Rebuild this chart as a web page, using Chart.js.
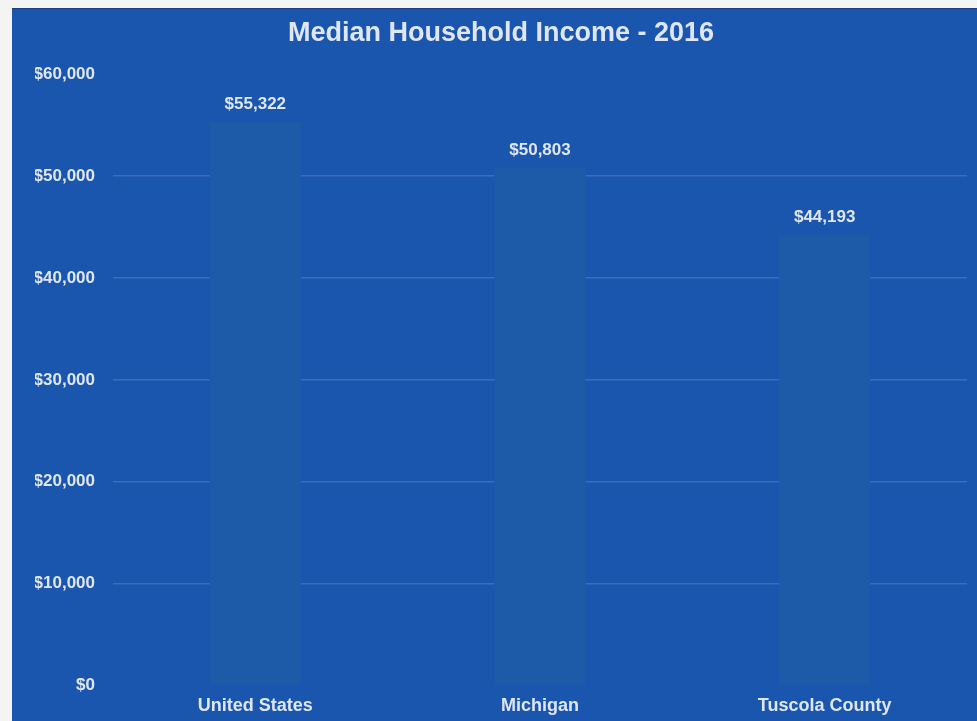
<!DOCTYPE html>
<html>
<head>
<meta charset="utf-8">
<script src="https://cdn.jsdelivr.net/npm/chart.js@4/dist/chart.umd.min.js"></script>
<style>
  html,body{margin:0;padding:0;background:#f4f4f2;width:977px;height:721px;overflow:hidden;}
  #wrap{position:absolute;left:12px;top:8px;width:965px;height:718px;background:#1a55ae;border-top:1px solid #1b3f7a;}
  canvas{display:block;}
</style>
</head>
<body>
<div id="wrap"><canvas id="c" width="965" height="718"></canvas></div>
<script>
const categories = ["United States", "Michigan", "Tuscola County"];
const incomeValues = [55322, 50803, 44193];
const valueLabels = ["$55,322", "$50,803", "$44,193"];
const yTickValues = [0, 10000, 20000, 30000, 40000, 50000, 60000];
const titleText = "Median Household Income - 2016";

const FONT = "'Liberation Sans', Arial, sans-serif";
const TEXT = "#dfe7f6";

const valueLabelPlugin = {
  id: 'valueLabels',
  afterDatasetsDraw(chart) {
    const ctx = chart.ctx;
    const meta = chart.getDatasetMeta(0);
    ctx.save();
    ctx.font = "bold 17px " + FONT;
    ctx.fillStyle = TEXT;
    ctx.textAlign = 'center';
    ctx.textBaseline = 'middle';
    meta.data.forEach((bar, i) => {
      ctx.fillText(valueLabels[i], bar.x, bar.y - 18);
    });
    ctx.restore();
  }
};

new Chart(document.getElementById('c'), {
  type: 'bar',
  data: {
    labels: categories,
    datasets: [{
      data: incomeValues,
      backgroundColor: '#1d5ba9',
      borderWidth: 0,
      barPercentage: 0.32,
      categoryPercentage: 1.0
    }]
  },
  options: {
    responsive: false,
    animation: false,
    events: [],
    layout: { padding: { left: 23, right: 10, top: 0, bottom: 0 } },
    plugins: {
      legend: { display: false },
      tooltip: { enabled: false },
      title: {
        display: true,
        text: titleText,
        color: TEXT,
        font: { family: FONT, size: 27, weight: 'bold' },
        padding: { top: 8, bottom: 25 }
      }
    },
    scales: {
      x: {
        grid: { display: false, drawTicks: false },
        border: { display: false },
        ticks: {
          color: TEXT,
          padding: 10,
          font: { family: FONT, size: 18, weight: 'bold' }
        }
      },
      y: {
        min: 0,
        max: 60000,
        afterFit(scale) { scale.width = 78; },
        afterBuildTicks(scale) { scale.ticks = yTickValues.map(v => ({ value: v })); },
        grid: {
          drawTicks: false,
          lineWidth: 1.5,
          color: (c) => (c.tick && (c.tick.value === 0 || c.tick.value === 60000)) ? 'rgba(0,0,0,0)' : 'rgba(190,210,240,0.2)'
        },
        border: { display: false },
        ticks: {
          color: TEXT,
          padding: 18,
          font: { family: FONT, size: 17, weight: 'bold' },
          callback: (v) => '$' + Number(v).toLocaleString('en-US')
        }
      }
    }
  },
  plugins: [valueLabelPlugin]
});
</script>
</body>
</html>
